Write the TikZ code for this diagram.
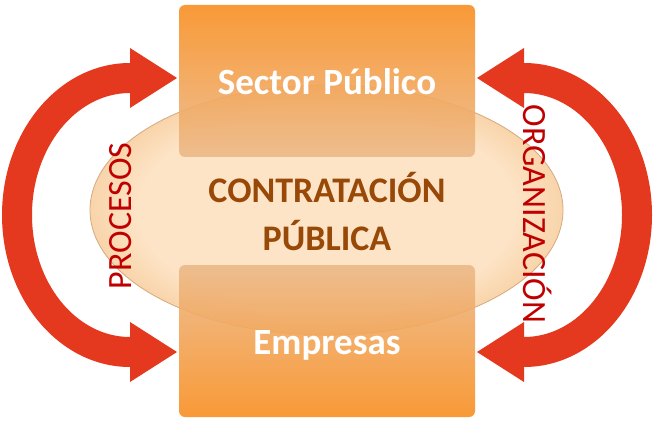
\documentclass[tikz,border=0pt]{standalone}
\usepackage{fontspec}
\setmainfont{Carlito}
\usetikzlibrary{shapes.geometric}
\definecolor{arrred}{RGB}{229,57,31}
\definecolor{txtred}{RGB}{192,0,0}
\definecolor{brn}{RGB}{152,72,7}
\definecolor{orgA}{RGB}{249,143,34}
\definecolor{orgB}{RGB}{236,185,137}
\definecolor{ellin}{RGB}{253,228,198}
\definecolor{ellout}{RGB}{248,212,170}
\definecolor{ellrim}{RGB}{214,170,126}
\pgfdeclareradialshading{ellshade}{\pgfpoint{0bp}{0bp}}{color(0bp)=(ellin); color(20bp)=(ellin); color(25bp)=(ellout); color(50bp)=(ellout)}
\begin{document}
\begin{tikzpicture}[x=0.75pt,y=-0.75pt,
  orgbox/.style={rectangle, rounded corners=4.5pt, minimum width=222pt, minimum height=114pt,
    inner sep=0pt, fill opacity=0.9, text opacity=1, text=white,
    font=\bfseries\fontsize{27.75}{33}\selectfont},
  bigarrow/.style={fill=arrred, draw=none},
  sidelabel/.style={text=txtred, font=\fontsize{25.5}{30}\selectfont, inner sep=0pt,
    text height=16pt, text depth=0pt},
  centerlabel/.style={text=brn, font=\bfseries\fontsize{27}{32}\selectfont, inner sep=0pt, anchor=base}]
\useasboundingbox (0,0) rectangle (653,431);
\fill[white] (0,0) rectangle (653,431);
% central ellipse
\node[ellipse, minimum width=354.75pt, minimum height=187.5pt, inner sep=0pt,
  shading=ellshade, draw=ellrim, line width=0.6pt] (ell) at (326.5,210) {};
% boxes
\node[orgbox, top color=orgA, bottom color=orgB, text height=21pt, text depth=0pt]
  (sp) at (327,81) {Sector Público};
\node[orgbox, top color=orgB, bottom color=orgA, text height=19.5pt, text depth=0pt]
  (emp) at (327,341) {Empresas};
% central text
\node[centerlabel] (ct1) at (327,202) {CONTRATACIÓN};
\node[centerlabel] (ct2) at (327,250) {PÚBLICA};
% left curved double arrow
\path[bigarrow] (177,78) -- (130,48) -- (130,63)
  arc[start angle=-90, end angle=-270, x radius=128, y radius=152]
  -- (130,382) -- (177,352) -- (130,322) -- (130,337)
  arc[start angle=90, end angle=270, x radius=98, y radius=122]
  -- (130,108) -- cycle;
% right curved double arrow
\path[bigarrow] (477,78) -- (524,48) -- (524,63)
  arc[start angle=-90, end angle=90, x radius=128, y radius=152]
  -- (524,382) -- (477,352) -- (524,322) -- (524,337)
  arc[start angle=90, end angle=-90, x radius=98, y radius=122]
  -- (524,108) -- cycle;
% side labels
\node[sidelabel, rotate=90] (proc) at (121,216) {PROCESOS};
\node[sidelabel, rotate=-90] (orgz) at (534,214) {ORGANIZACIÓN};
\end{tikzpicture}
\end{document}
